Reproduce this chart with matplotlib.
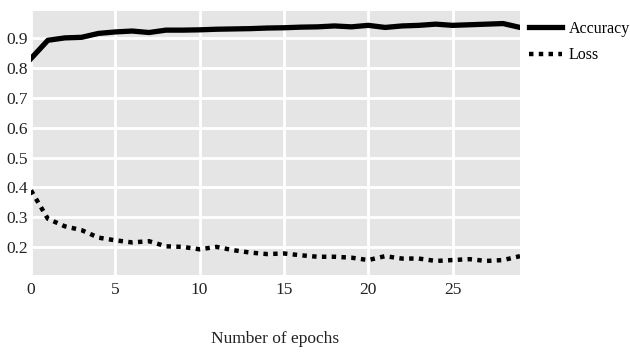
import numpy as np
import matplotlib
matplotlib.use("Agg")
import matplotlib.pyplot as plt

epochs = list(range(30))
accuracy = [0.831, 0.892, 0.900, 0.902, 0.915, 0.920, 0.923, 0.918, 0.926, 0.926,
            0.927, 0.929, 0.930, 0.931, 0.933, 0.934, 0.936, 0.937, 0.940, 0.937,
            0.942, 0.935, 0.940, 0.942, 0.946, 0.942, 0.944, 0.946, 0.948, 0.935]
loss = [0.390, 0.295, 0.270, 0.257, 0.232, 0.223, 0.216, 0.220, 0.203, 0.201,
        0.193, 0.201, 0.190, 0.182, 0.177, 0.179, 0.173, 0.168, 0.168, 0.165,
        0.157, 0.170, 0.162, 0.162, 0.154, 0.157, 0.160, 0.154, 0.157, 0.170]
x_ticks = [0, 5, 10, 15, 20, 25]
y_ticks = [0.2, 0.3, 0.4, 0.5, 0.6, 0.7, 0.8, 0.9]

plt.rcParams["font.family"] = ["Liberation Serif", "DejaVu Serif"]

fig = plt.figure(figsize=(6.3, 3.52), dpi=100)
ax = fig.add_axes([31 / 630, 1 - 275 / 352, 489 / 630, 264 / 352])
ax.set_facecolor("#e5e5e5")

ax.plot(epochs, accuracy, color="black", linewidth=3.8, label="Accuracy")
ax.plot(epochs, loss, color="black", linewidth=3.2, linestyle=(0, (1, 1.2)), label="Loss")

ax.set_xlim(0, 29)
ax.set_ylim(0.107, 0.99)
ax.set_xticks(x_ticks)
ax.set_yticks(y_ticks)
ax.set_yticklabels([f"{v:.1f}" for v in y_ticks])
ax.tick_params(length=0, labelsize=12.5, colors="#222222")
ax.tick_params(axis="x", pad=5)
ax.tick_params(axis="y", pad=2)
ax.grid(True, color="white", linewidth=2)
ax.set_axisbelow(True)
for s in ax.spines.values():
    s.set_visible(False)

ax.set_xlabel("Number of epochs", fontsize=12.5, color="#222222", labelpad=24)

ax.legend(loc="upper left", bbox_to_anchor=(0.995, 1.005), frameon=False,
          fontsize=11.5, handlelength=2.1, handletextpad=0.4,
          borderaxespad=0.3, labelspacing=0.65)

plt.savefig("out.png", dpi=100)
plt.close()
